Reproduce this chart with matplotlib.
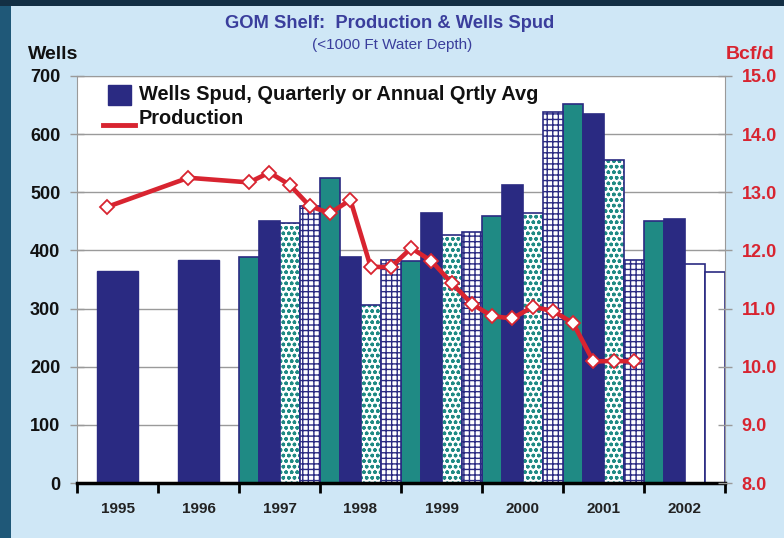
import matplotlib
matplotlib.use('Agg')
import matplotlib.pyplot as plt
from matplotlib.patches import Rectangle
from matplotlib.lines import Line2D

plt.rcParams['font.family'] = ['Liberation Sans', 'DejaVu Sans']
plt.rcParams['hatch.linewidth'] = 1.0

# --- data ---
years = ['1995', '1996', '1997', '1998', '1999', '2000', '2001', '2002']
annual_years = ['1995', '1996']
annual_wells = [365, 384]              # annual quarterly average
quarter_years = ['1997', '1998', '1999', '2000', '2001', '2002']
wells_q1 = [389, 525, 381, 459, 652, 450]
wells_q2 = [451, 389, 465, 513, 634, 454]
wells_q3 = [448, 307, 427, 465, 556, 377]
wells_q4 = [477, 383, 432, 638, 383, 363]

annual_prod = [12.75, 13.25]           # Bcf/d, 1995-1996
prod_years = ['1997', '1998', '1999', '2000', '2001']
prod_q1 = [13.17, 12.64, 12.04, 10.87, 10.75]
prod_q2 = [13.34, 12.87, 11.82, 10.83, 10.09]
prod_q3 = [13.13, 11.72, 11.44, 11.03, 10.10]
prod_q4 = [12.76, 11.71, 11.08, 10.96, 10.09]

NAVY = '#2a2a82'
TEAL = '#1f8a84'
RED = '#d82430'
TITLE = '#3a3e9c'
BG = '#cfe7f6'
FRAME = '#1f5878'

fig = plt.figure(figsize=(7.84, 5.38), dpi=100)
fig.patch.set_facecolor(BG)
# dark frame on left / top
fig.add_artist(Rectangle((0, 0), 11 / 784, 1, transform=fig.transFigure,
                         facecolor=FRAME, edgecolor='none', zorder=-1))
fig.add_artist(Rectangle((0, 1 - 6 / 538), 1, 6 / 538, transform=fig.transFigure,
                         facecolor='#132f44', edgecolor='none', zorder=-1))

ax = fig.add_axes([77 / 784, 55 / 538, 648 / 784, 407 / 538])
ax.set_facecolor('white')

def xpos(year):
    return years.index(year)

# annual bars
for yr, v in zip(annual_years, annual_wells):
    ax.bar(xpos(yr) + 0.5, v, width=0.5, color=NAVY, edgecolor=NAVY, lw=1, zorder=2)

# quarterly bars
quarters = [wells_q1, wells_q2, wells_q3, wells_q4]
for q, vals in enumerate(quarters):
    for yr, v in zip(quarter_years, vals):
        x = xpos(yr) + (q + 0.5) / 4
        if yr == '2002' and q >= 2:
            ax.bar(x, v, width=0.25, color='white', edgecolor=NAVY, lw=1.2, zorder=2)
        elif q == 0:
            ax.bar(x, v, width=0.25, color=TEAL, edgecolor=NAVY, lw=1.2, zorder=2)
        elif q == 1:
            ax.bar(x, v, width=0.25, color=NAVY, edgecolor=NAVY, lw=1.2, zorder=2)
        elif q == 2:
            ax.bar(x, v, width=0.25, color='white', edgecolor=TEAL, hatch='ooo', lw=0, zorder=2)
            ax.bar(x, v, width=0.25, fill=False, edgecolor=NAVY, lw=1.2, zorder=2)
        else:
            ax.bar(x, v, width=0.25, color='white', edgecolor=NAVY, hatch='+++', lw=1.2, zorder=2)

ax.set_xlim(0, 8)
ax.set_ylim(0, 700)
ax.set_yticks(range(0, 701, 100))
ax.yaxis.grid(True, color='#9a9a9a', lw=1)
ax.set_axisbelow(True)

ax.set_xticks(range(0, 9))
ax.set_xticklabels([])
ax.set_xticks([i + 0.5 for i in range(8)], minor=True)
ax.set_xticklabels(years, minor=True, fontsize=11, fontweight='bold', color='#222222')
ax.tick_params(axis='x', which='major', direction='out', length=7, width=2, color='black')
ax.tick_params(axis='x', which='minor', length=0, pad=14)
ax.tick_params(axis='y', direction='inout', length=10, width=1, color='#9a9a9a',
               labelsize=13, pad=7)
for lab in ax.get_yticklabels():
    lab.set_fontweight('bold')
    lab.set_color('#111111')

for s in ['left', 'right', 'top']:
    ax.spines[s].set_color('#9a9a9a')
ax.spines['bottom'].set_color('black')
ax.spines['bottom'].set_linewidth(2.5)

# production line on right axis
ax2 = ax.twinx()
ax2.set_ylim(8, 15)
ax2.set_yticks(range(8, 16))
ax2.set_yticklabels(['%.1f' % v for v in range(8, 16)], fontsize=13,
                    fontweight='bold', color=RED)
ax2.tick_params(axis='y', direction='inout', length=10, width=1, color='#9a9a9a', pad=7)
for s in ax2.spines.values():
    s.set_visible(False)

px = [xpos(yr) + 0.375 for yr in annual_years]
py = list(annual_prod)
for i, yr in enumerate(prod_years):
    for q, vals in enumerate([prod_q1, prod_q2, prod_q3, prod_q4]):
        px.append(xpos(yr) + (q + 0.5) / 4)
        py.append(vals[i])
ax2.plot(px, py, color=RED, lw=3.3, marker='D', markersize=7.5,
         markerfacecolor='white', markeredgecolor=RED, markeredgewidth=1.3, zorder=5)

# legend
ax2.add_patch(Rectangle((31 / 648, 1 - 29 / 407), 23 / 648, 20 / 407,
                        transform=ax2.transAxes, facecolor=NAVY, edgecolor=NAVY))
ax2.add_line(Line2D([26 / 648, 58 / 648], [1 - 49 / 407, 1 - 49 / 407],
                    transform=ax2.transAxes, color=RED, lw=3.5))
ax2.text(62 / 648, 1 - 18 / 407, 'Wells Spud, Quarterly or Annual Qrtly Avg',
         transform=ax2.transAxes, fontsize=14.4, fontweight='bold', va='center', color='#111111')
ax2.text(62 / 648, 1 - 42 / 407, 'Production',
         transform=ax2.transAxes, fontsize=14.4, fontweight='bold', va='center', color='#111111')

# titles and axis labels
fig.text(390 / 784, 1 - 23 / 538, 'GOM Shelf:  Production & Wells Spud', ha='center',
         va='center', fontsize=13.2, fontweight='bold', color=TITLE)
fig.text(392 / 784, 1 - 45 / 538, '(<1000 Ft Water Depth)', ha='center', va='center',
         fontsize=11, color=TITLE)
fig.text(28 / 784, 1 - 55 / 538, 'Wells', ha='left', va='center', fontsize=14,
         fontweight='bold', color='#111111')
fig.text(750 / 784, 1 - 55 / 538, 'Bcf/d', ha='center', va='center', fontsize=14,
         fontweight='bold', color=RED)

fig.savefig('out.png', dpi=100, facecolor=fig.get_facecolor())
